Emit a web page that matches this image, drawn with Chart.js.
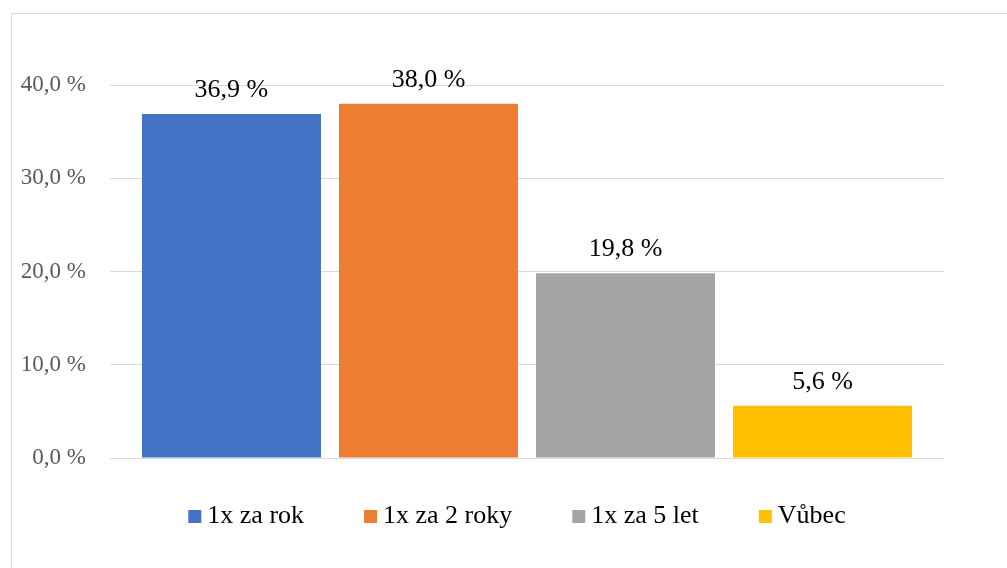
<!DOCTYPE html>
<html>
<head>
<meta charset="utf-8">
<script src="https://cdn.jsdelivr.net/npm/chart.js@4/dist/chart.umd.min.js"></script>
<style>
  body { margin: 0; background: #fff; overflow: hidden; }
  #frame { position: absolute; left: 11px; top: 13px; width: 1010px; height: 570px; border: 1px solid #d9d9d9; }
  canvas { display: block; }
</style>
</head>
<body>
<div id="frame"><canvas id="myChart" width="1010" height="555"></canvas></div>
<script>
const categories = ['1x za rok', '1x za 2 roky', '1x za 5 let', 'Vůbec']
const values = [36.9, 38.0, 19.8, 5.6]
const colors = ['#4472C4', '#ED7D31', '#A5A5A5', '#FFC000']
const yTicks = [0, 10, 20, 30, 40]

const serif = "'Liberation Serif', 'Times New Roman', serif"
const fmt = v => v.toFixed(1).replace('.', ',') + ' %'

// value labels above the bars
const barLabels = {
    id: 'barLabels',
    afterDatasetsDraw(chart) {
        const ctx = chart.ctx
        ctx.save()
        ctx.font = '26px ' + serif
        ctx.fillStyle = '#000'
        ctx.textAlign = 'center'
        ctx.textBaseline = 'alphabetic'
        chart.data.datasets.forEach((ds, i) => {
            chart.getDatasetMeta(i).data.forEach((bar, j) => {
                ctx.fillText(fmt(ds.data[j]), bar.x, bar.y - 17)
            })
        })
        ctx.restore()
    }
}

// legend drawn by hand so spacing matches
const bottomLegend = {
    id: 'bottomLegend',
    afterDraw(chart) {
        const ctx = chart.ctx
        ctx.save()
        ctx.font = '26px ' + serif
        const box = 13, gapIn = 6, gapOut = 60
        const widths = chart.data.datasets.map(ds => ctx.measureText(ds.label).width)
        const total = widths.reduce((a, w) => a + box + gapIn + w, 0) + gapOut * (widths.length - 1)
        let x = chart.width / 2 - total / 2
        const base = chart.chartArea.bottom + 65
        ctx.textBaseline = 'alphabetic'
        ctx.textAlign = 'left'
        chart.data.datasets.forEach((ds, i) => {
            ctx.fillStyle = ds.backgroundColor
            ctx.fillRect(x, base - 13, box, box)
            ctx.fillStyle = '#000'
            ctx.fillText(ds.label, x + box + gapIn, base)
            x += box + gapIn + widths[i] + gapOut
        })
        ctx.restore()
    }
}

const ctx = document.getElementById('myChart').getContext('2d')
const myChart = new Chart(ctx, {
    type: 'bar',
    data: {
        labels: [''],
        datasets: categories.map((c, i) => ({
            label: c,
            data: [values[i]],
            backgroundColor: colors[i],
            barPercentage: 0.9086,
            categoryPercentage: 0.945
        }))
    },
    options: {
        responsive: false,
        animation: false,
        layout: { padding: { top: 71, right: 78, bottom: 111, left: 0 } },
        plugins: {
            legend: { display: false },
            tooltip: { enabled: false }
        },
        scales: {
            x: { display: false },
            y: {
                min: 0,
                max: 40,
                afterBuildTicks: axis => { axis.ticks = yTicks.map(v => ({ value: v })) },
                afterFit: axis => { axis.width = 98 },
                border: { display: false },
                grid: { color: '#d9d9d9', lineWidth: 1, drawTicks: false },
                ticks: {
                    padding: 24,
                    color: '#595959',
                    font: { family: serif, size: 23 },
                    callback: v => fmt(v)
                }
            }
        }
    },
    plugins: [barLabels, bottomLegend]
})
</script>
</body>
</html>
